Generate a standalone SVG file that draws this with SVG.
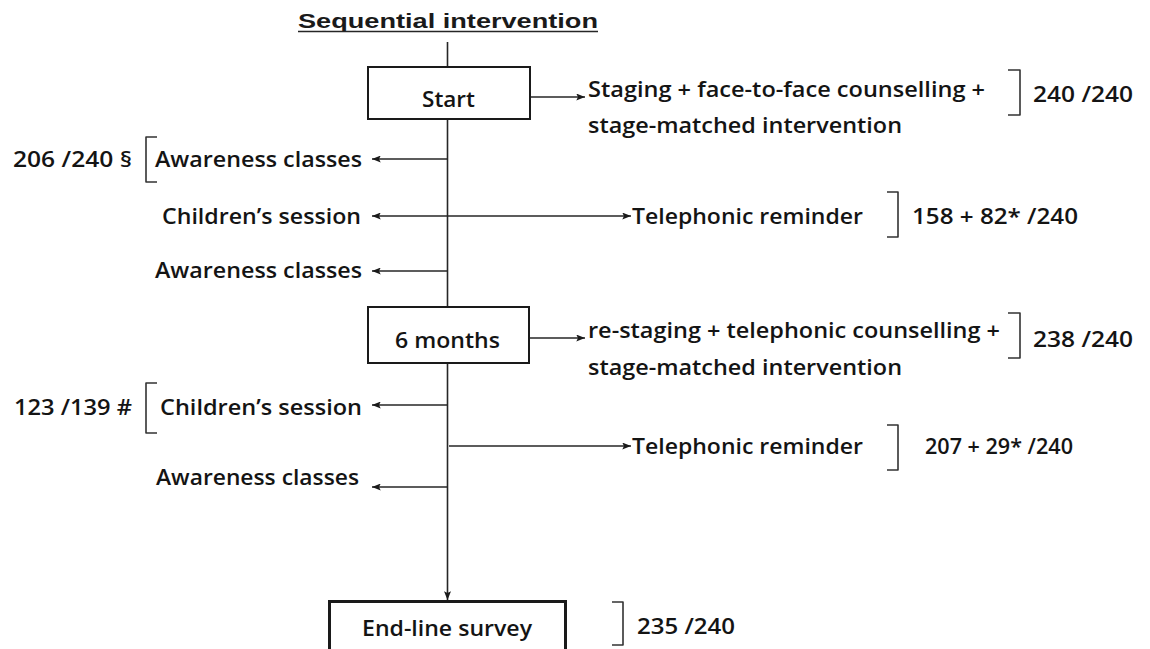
<svg xmlns="http://www.w3.org/2000/svg" width="1150" height="649" viewBox="0 0 1150 649">
<style>
  .t { font-family: "Open Sans", "Liberation Sans", sans-serif; font-weight: 600; font-size: 22px; fill: #141414; }
  .ttl { font-family: "Liberation Sans", Arial, sans-serif; font-weight: bold; font-size: 21px; fill: #1a1a1a; }
  .box { fill: #ffffff; stroke: #1a1a1a; stroke-width: 2; }
  .box3 { fill: #ffffff; stroke: #1a1a1a; stroke-width: 3; }
  .ln { fill: none; stroke: #262626; stroke-width: 1.6; }
  .br { fill: none; stroke: #333333; stroke-width: 1.6; stroke-linejoin: round; }
</style>
<defs>
  <marker id="ah" viewBox="0 0 10 8" refX="10" refY="4" markerWidth="9" markerHeight="7" markerUnits="userSpaceOnUse" orient="auto-start-reverse">
    <path d="M0,0 L10,4 L0,8 L2,4 z" fill="#1a1a1a"/>
  </marker>
</defs>
<rect width="1150" height="649" fill="#ffffff"/>

<g id="title">
  <text class="ttl" x="298" y="28" textLength="300" lengthAdjust="spacingAndGlyphs">Sequential intervention</text>
  <line x1="298" y1="31.5" x2="598" y2="31.5" stroke="#262626" stroke-width="1.6"/>
</g>

<g id="connectors">
  <line class="ln" x1="447.5" y1="42" x2="447.5" y2="67"/>
  <line class="ln" x1="447.5" y1="119" x2="447.5" y2="307"/>
  <line class="ln" x1="447.5" y1="363" x2="447.5" y2="600" marker-end="url(#ah)"/>
  <line class="ln" x1="531" y1="97" x2="585" y2="97" marker-end="url(#ah)"/>
  <line class="ln" x1="447.5" y1="159" x2="372" y2="159" marker-end="url(#ah)"/>
  <line class="ln" x1="372" y1="216" x2="631" y2="216" marker-start="url(#ah)" marker-end="url(#ah)"/>
  <line class="ln" x1="447.5" y1="271" x2="372" y2="271" marker-end="url(#ah)"/>
  <line class="ln" x1="529" y1="338" x2="585" y2="338" marker-end="url(#ah)"/>
  <line class="ln" x1="447.5" y1="405" x2="372" y2="405" marker-end="url(#ah)"/>
  <line class="ln" x1="449" y1="446" x2="631" y2="446" marker-end="url(#ah)"/>
  <line class="ln" x1="447.5" y1="487" x2="372" y2="487" marker-end="url(#ah)"/>
</g>

<g id="node-start">
  <rect class="box" x="368" y="67" width="162" height="52"/>
  <text class="t" x="422" y="107" textLength="53" lengthAdjust="spacingAndGlyphs">Start</text>
</g>

<g id="node-staging">
  <text class="t" x="588" y="97" textLength="397" lengthAdjust="spacingAndGlyphs">Staging + face-to-face counselling +</text>
  <text class="t" x="588" y="133" textLength="314" lengthAdjust="spacingAndGlyphs">stage-matched intervention</text>
  <path class="br" d="M1008,70 H1020 V115 H1008"/>
  <text class="t" x="1033" y="102" textLength="100" lengthAdjust="spacingAndGlyphs">240 /240</text>
</g>

<g id="node-awareness-1">
  <text class="t" x="13" y="167" textLength="119" lengthAdjust="spacingAndGlyphs">206 /240 §</text>
  <path class="br" d="M157,137 H146 V182 H157"/>
  <text class="t" x="155" y="167" textLength="207" lengthAdjust="spacingAndGlyphs">Awareness classes</text>
</g>

<g id="node-children-1">
  <text class="t" x="162" y="224" textLength="199" lengthAdjust="spacingAndGlyphs">Children’s session</text>
</g>

<g id="node-telephonic-1">
  <text class="t" x="632" y="224" textLength="231" lengthAdjust="spacingAndGlyphs">Telephonic reminder</text>
  <path class="br" d="M887,192 H898 V237 H887"/>
  <text class="t" x="912" y="224" textLength="166" lengthAdjust="spacingAndGlyphs">158 + 82* /240</text>
</g>

<g id="node-awareness-2">
  <text class="t" x="155" y="278" textLength="207" lengthAdjust="spacingAndGlyphs">Awareness classes</text>
</g>

<g id="node-6months">
  <rect class="box" x="368" y="307" width="161" height="56"/>
  <text class="t" x="395" y="348" textLength="105" lengthAdjust="spacingAndGlyphs">6 months</text>
</g>

<g id="node-restaging">
  <text class="t" x="588" y="338" textLength="412" lengthAdjust="spacingAndGlyphs">re-staging + telephonic counselling +</text>
  <text class="t" x="588" y="375" textLength="314" lengthAdjust="spacingAndGlyphs">stage-matched intervention</text>
  <path class="br" d="M1008,313 H1020 V358 H1008"/>
  <text class="t" x="1033" y="347" textLength="100" lengthAdjust="spacingAndGlyphs">238 /240</text>
</g>

<g id="node-children-2">
  <text class="t" x="14" y="415" textLength="118" lengthAdjust="spacingAndGlyphs">123 /139 #</text>
  <path class="br" d="M157,383 H146 V433 H157"/>
  <text class="t" x="160" y="415" textLength="202" lengthAdjust="spacingAndGlyphs">Children’s session</text>
</g>

<g id="node-telephonic-2">
  <text class="t" x="632" y="454" textLength="231" lengthAdjust="spacingAndGlyphs">Telephonic reminder</text>
  <path class="br" d="M887,425 H898 V470 H887"/>
  <text class="t" x="925" y="454" textLength="148" lengthAdjust="spacingAndGlyphs">207 + 29* /240</text>
</g>

<g id="node-awareness-3">
  <text class="t" x="156" y="485" textLength="203" lengthAdjust="spacingAndGlyphs">Awareness classes</text>
</g>

<g id="node-endline">
  <rect class="box3" x="329.5" y="601.5" width="236" height="70"/>
  <text class="t" x="362" y="636" textLength="170" lengthAdjust="spacingAndGlyphs">End-line survey</text>
  <path class="br" d="M612,602 H623 V645 H612"/>
  <text class="t" x="637" y="634" textLength="98" lengthAdjust="spacingAndGlyphs">235 /240</text>
</g>
</svg>
